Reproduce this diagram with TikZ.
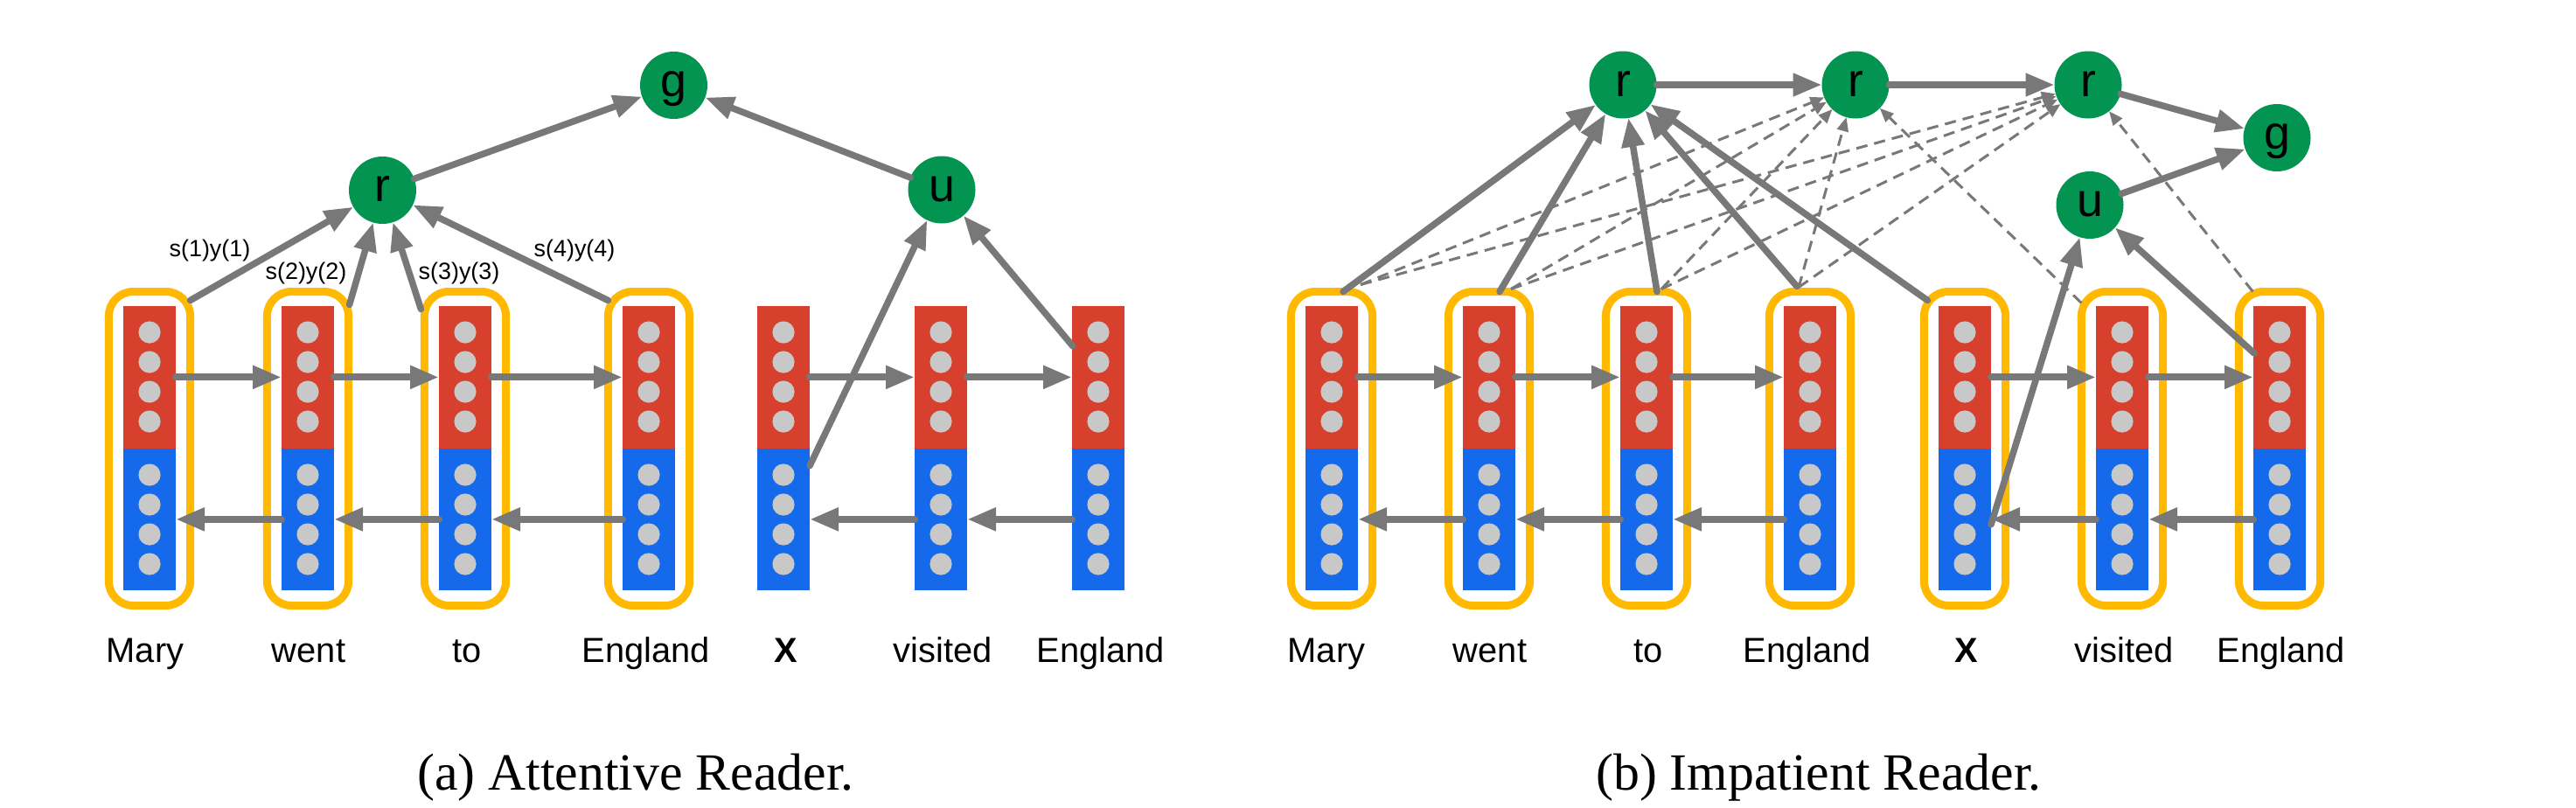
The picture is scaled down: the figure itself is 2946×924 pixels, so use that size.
\documentclass[tikz,border=0pt]{standalone}
\usepackage{fontspec}
\setmainfont{Liberation Serif}
\newfontfamily\helv{Liberation Sans}
\usetikzlibrary{arrows.meta,calc}
\definecolor{cred}{HTML}{D6402D}
\definecolor{cblue}{HTML}{146AEA}
\definecolor{cgreen}{HTML}{049451}
\definecolor{cyellow}{HTML}{FFB900}
\definecolor{cdot}{HTML}{C8C8C8}
\definecolor{cgray}{HTML}{787878}
\begin{document}
\begin{tikzpicture}[x=1bp,y=-1bp,
  redcol/.style={fill=cred,draw=none,minimum width=60bp,minimum height=162.7bp,inner sep=0pt,outer sep=0pt},
  bluecol/.style={fill=cblue,draw=none,minimum width=60bp,minimum height=162.3bp,inner sep=0pt,outer sep=0pt},
  ybox/.style={draw=cyellow,line width=9bp,rounded corners=28bp,minimum width=93.2bp,minimum height=359bp,inner sep=0pt,outer sep=0pt},
  gnode/.style={circle,fill=cgreen,minimum size=77bp,inner sep=0pt,outer sep=0pt,font=\helv\fontsize{54}{60}\selectfont,text height=26bp,text depth=0bp},
  conn/.style={draw=cgray,line width=7.5bp,line cap=round,-{Triangle[length=33bp,width=25bp]}},
  hconn/.style={draw=cgray,line width=8bp,line cap=round,-{Triangle[length=33bp,width=25bp]}},
  dconn/.style={draw=cgray,line width=3bp,dash pattern=on 13bp off 8bp,-{Triangle[length=16bp,width=13bp]}},
  word/.style={font=\helv\fontsize{40}{48}\selectfont,anchor=base,inner sep=0pt},
  wlab/.style={font=\helv\fontsize{27}{32}\selectfont,inner sep=0pt},
  capt/.style={font=\fontsize{60}{72}\selectfont,anchor=base,inner sep=0pt}
]
\fill[white] (0,0) rectangle (2946,924);
\useasboundingbox (0,0) rectangle (2946,924);

% ---------- left panel columns ----------
\foreach \i/\x in {1/171,2/352,3/532,4/742,5/896,6/1076,7/1256}{
  \node[redcol] (Lr\i) at (\x,431.35) {};
  \node[bluecol] (Lb\i) at (\x,593.85) {};
  \foreach \y in {380,414,448,482,543,577,611,645}
    \fill[cdot] (\x,\y) circle[radius=12.6bp];
}
\foreach \i/\x in {1/171,2/352,3/532,4/742}{
  \node[ybox] (LB\i) at (\x,513) {};
}
% ---------- right panel columns ----------
\foreach \i/\x in {1/1523,2/1703,3/1883,4/2070,5/2247,6/2427,7/2607}{
  \node[redcol] (Rr\i) at (\x,431.35) {};
  \node[bluecol] (Rb\i) at (\x,593.85) {};
  \foreach \y in {380,414,448,482,543,577,611,645}
    \fill[cdot] (\x,\y) circle[radius=12.6bp];
  \node[ybox] (RB\i) at (\x,513) {};
}

% ---------- green nodes ----------
\node[gnode] (lg) at (770.5,97.5) {g};
\node[gnode] (lr) at (437.5,217.5) {r};
\node[gnode] (lu) at (1077,217) {u};
\node[gnode] (rr1) at (1856,97) {r};
\node[gnode] (rr2) at (2122,97) {r};
\node[gnode] (rr3) at (2388,97) {r};
\node[gnode] (rg) at (2604,157.5) {g};
\node[gnode] (ru) at (2390,234.5) {u};

% ---------- left panel connectors ----------
\draw[hconn] (Lr1.east) -- (Lr2.west);
\draw[hconn] (Lr2.east) -- (Lr3.west);
\draw[hconn] (Lr3.east) -- (Lr4.west);
\draw[hconn] (Lr5.east) -- (Lr6.west);
\draw[hconn] (Lr6.east) -- (Lr7.west);
\draw[hconn] (Lb2.west) -- (Lb1.east);
\draw[hconn] (Lb3.west) -- (Lb2.east);
\draw[hconn] (Lb4.west) -- (Lb3.east);
\draw[hconn] (Lb6.west) -- (Lb5.east);
\draw[hconn] (Lb7.west) -- (Lb6.east);

\draw[conn] ($(LB1.north east)+(0,10)$) -- (lr);
\draw[conn] ($(LB2.north east)+(1,15)$) -- (lr);
\draw[conn] ($(LB3.north west)+(-4,20)$) -- (lr);
\draw[conn] ($(LB4.north west)+(0,10)$) -- (lr);
\draw[conn] (lr) -- (lg);
\draw[conn] (lu) -- (lg);
\draw[conn] ($(Lb5.north east)+(0,20)$) -- (lu);
\draw[conn] ($(Lr7.north west)+(1,46)$) -- (lu);

\node[wlab] (s1) at (240,287) {s(1)y(1)};
\node[wlab] (s2) at (350,313) {s(2)y(2)};
\node[wlab] (s3) at (525,313) {s(3)y(3)};
\node[wlab] (s4) at (657,287) {s(4)y(4)};

% ---------- right panel connectors ----------
\draw[hconn] (Rr1.east) -- (Rr2.west);
\draw[hconn] (Rr2.east) -- (Rr3.west);
\draw[hconn] (Rr3.east) -- (Rr4.west);
\draw[hconn] (Rr5.east) -- (Rr6.west);
\draw[hconn] (Rr6.east) -- (Rr7.west);
\draw[hconn] (Rb2.west) -- (Rb1.east);
\draw[hconn] (Rb3.west) -- (Rb2.east);
\draw[hconn] (Rb4.west) -- (Rb3.east);
\draw[hconn] (Rb6.west) -- (Rb5.east);
\draw[hconn] (Rb7.west) -- (Rb6.east);

% dashed attention
\draw[dconn] ($(RB1.north)+(33,-8)$) -- (rr2);
\draw[dconn] ($(RB1.north)+(33,-8)$) -- (rr3);
\draw[dconn] ($(RB2.north)+(25,-3)$) -- (rr2);
\draw[dconn] ($(RB2.north)+(25,-3)$) -- (rr3);
\draw[dconn] ($(RB3.north)+(17,-3)$) -- (rr2);
\draw[dconn] ($(RB3.north)+(17,-3)$) -- (rr3);
\draw[dconn] ($(RB4.north)+(-13,-5)$) -- (rr2);
\draw[dconn] ($(RB4.north)+(-13,-5)$) -- (rr3);
\draw[dconn] ($(RB6.north west)+(0,13)$) -- (rr2);
\draw[dconn] ($(RB7.north west)+(16,0)$) -- (rr3);

% solid attention
\draw[conn] ($(RB1.north)+(13,0)$) -- (rr1);
\draw[conn] ($(RB2.north)+(12,0)$) -- (rr1);
\draw[conn] ($(RB3.north)+(12,0)$) -- (rr1);
\draw[conn] ($(RB4.north)+(-15,-6)$) -- (rr1);
\draw[conn] ($(RB5.north west)+(4,10)$) -- (rr1);
\draw[conn] (rr1) -- (rr2);
\draw[conn] (rr2) -- (rr3);
\draw[conn] (rr3) -- (rg);
\draw[conn] (ru) -- (rg);
\draw[conn] ($(Rb5.east)+(0,6)$) -- (ru);
\draw[conn] ($(Rr7.north west)+(1,54)$) -- (ru);

% ---------- words ----------
\node[word] (wl1) at (166,757) {Mary};
\node[word] (wl2) at (353,757) {went};
\node[word] (wl3) at (534,757) {to};
\node[word] (wl4) at (739,757) {England};
\node[word] (wl5) at (899,757) {\bfseries X};
\node[word] (wl6) at (1078,757) {visited};
\node[word] (wl7) at (1259,757) {England};
\node[word] (wr1) at (1517,757) {Mary};
\node[word] (wr2) at (1704,757) {went};
\node[word] (wr3) at (1885,757) {to};
\node[word] (wr4) at (2067,757) {England};
\node[word] (wr5) at (2249,757) {\bfseries X};
\node[word] (wr6) at (2429,757) {visited};
\node[word] (wr7) at (2609,757) {England};

\node[capt] (capa) at (727,903) {(a) Attentive Reader.};
\node[capt] (capb) at (2080,903) {(b) Impatient Reader.};
\end{tikzpicture}
\end{document}
